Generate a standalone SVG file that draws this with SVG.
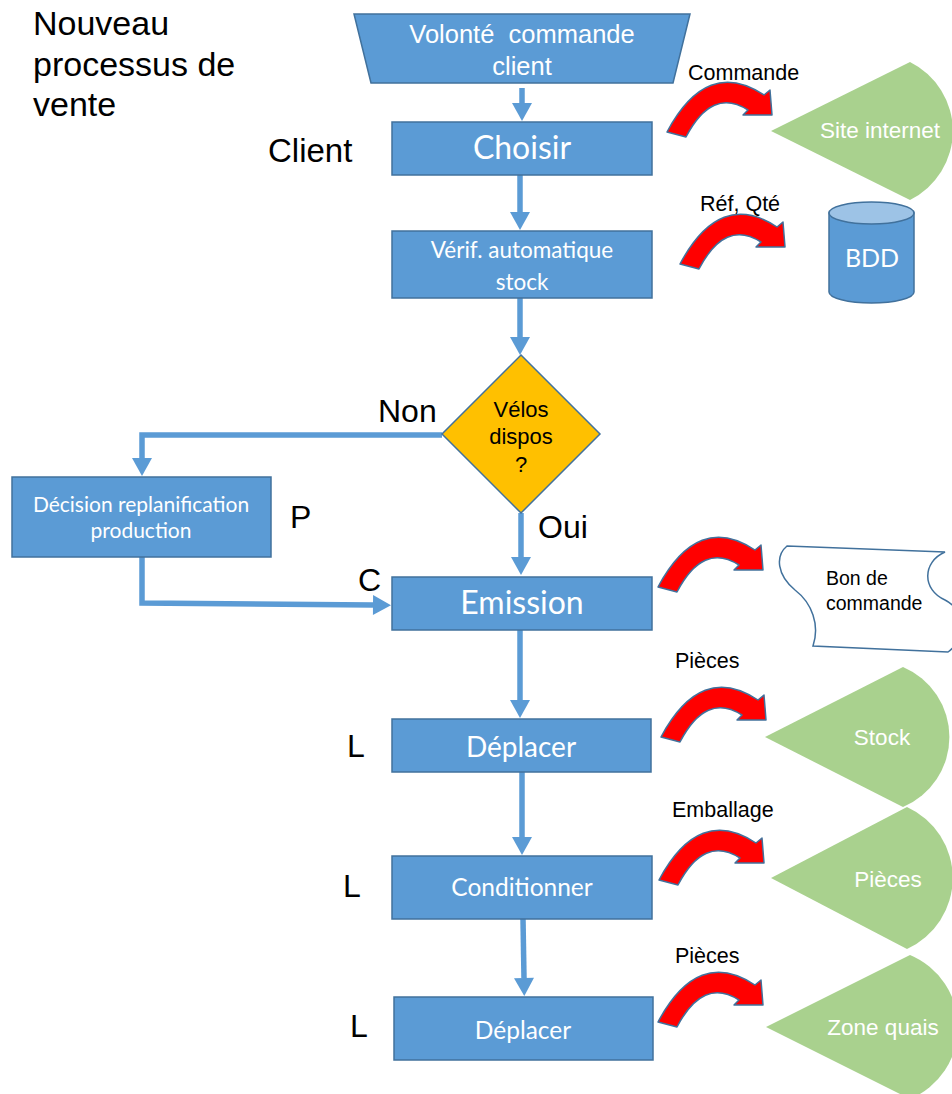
<svg xmlns="http://www.w3.org/2000/svg" width="952" height="1094" viewBox="0 0 952 1094">
<style>
.box{fill:#5B9BD5;stroke:#41719C;stroke-width:1.5}
.bt{font-family:Lato,"Open Sans",sans-serif;fill:#fff;text-anchor:middle}
.lbl{font-family:"Liberation Sans",Arial,sans-serif;fill:#000}
.g{fill:#A9D18E}
.gt{font-family:"Liberation Sans",Arial,sans-serif;fill:#fff;font-size:22.5px;text-anchor:middle}
.con{fill:none;stroke:#5B9BD5;stroke-width:5.5}
.red{fill:#FF0000;stroke:#41719C;stroke-width:1.5;stroke-linejoin:round}
</style>
<defs>
<marker id="ah" markerUnits="userSpaceOnUse" markerWidth="20" markerHeight="22" refX="0" refY="10" orient="auto" overflow="visible"><path d="M0,0 L18,10 L0,20 Z" fill="#5B9BD5"/></marker>
<path id="ca" d="M0,0 Q40,-75 97,-37 L103,-42 L105,-17 L76,-17 L81,-22 Q45,-45 19,5 Z"/>
</defs>
<g id="title"><text class="lbl" font-size="34" x="33" y="35">Nouveau</text><text class="lbl" font-size="34" x="33" y="76">processus de</text><text class="lbl" font-size="34" x="33" y="116">vente</text></g>
<g id="connectors">
<path class="con" d="M522,88 L522,103" marker-end="url(#ah)"/>
<path class="con" d="M520,175 L520,212" marker-end="url(#ah)"/>
<path class="con" d="M520,298 L520,337" marker-end="url(#ah)"/>
<path class="con" d="M442,435 L142,435 L142,458" marker-end="url(#ah)"/>
<path class="con" d="M142,557 L142,603 L373,605" marker-end="url(#ah)"/>
<path class="con" d="M521,513 L521,557" marker-end="url(#ah)"/>
<path class="con" d="M520,630 L520,700" marker-end="url(#ah)"/>
<path class="con" d="M522,772 L522,837" marker-end="url(#ah)"/>
<path class="con" d="M523,919 L524,978" marker-end="url(#ah)"/>
</g>
<g id="volonte"><path class="box" d="M354,14 L690,14 L673,83 L371,83 Z"/><text class="gt" style="font-size:25.5px" x="522" y="43" xml:space="preserve">Volonté  commande</text><text class="gt" style="font-size:25.5px" x="522" y="75">client</text></g>
<g id="choisir"><rect class="box" x="392" y="122" width="260" height="53"/><text class="bt" font-size="32" x="522" y="159">Choisir</text></g>
<g id="verif"><rect class="box" x="392" y="231" width="260" height="67"/><text class="bt" font-size="22.5" x="522" y="258">Vérif. automatique</text><text class="bt" font-size="22.5" x="522" y="290">stock</text></g>
<g id="dispos"><path d="M521,355 L600,434 L521,513 L442,434 Z" fill="#FFC000" stroke="#41719C" stroke-width="1.5"/><text class="lbl" font-size="22" text-anchor="middle" x="521" y="417">Vélos</text><text class="lbl" font-size="22" text-anchor="middle" x="521" y="444">dispos</text><text class="lbl" font-size="22" text-anchor="middle" x="521" y="472">?</text></g>
<g id="decision"><rect class="box" x="12" y="477" width="259" height="80"/><text class="bt" font-size="21" x="141" y="512">Décision replanification</text><text class="bt" font-size="21" x="141" y="538">production</text></g>
<g id="emission"><rect class="box" x="392" y="577" width="260" height="53"/><text class="bt" font-size="32" x="522" y="614">Emission</text></g>
<g id="deplacer1"><rect class="box" x="392" y="719" width="259" height="53"/><text class="bt" font-size="28" x="521" y="757">Déplacer</text></g>
<g id="conditionner"><rect class="box" x="392" y="856" width="260" height="63"/><text class="bt" font-size="24.5" x="522" y="896">Conditionner</text></g>
<g id="deplacer2"><rect class="box" x="394" y="997" width="259" height="63"/><text class="bt" font-size="24.5" x="523" y="1039">Déplacer</text></g>
<g id="side-labels">
<text class="lbl" font-size="33" x="268" y="162">Client</text>
<text class="lbl" font-size="32" x="378" y="422">Non</text>
<text class="lbl" font-size="32" x="538" y="538">Oui</text>
<text class="lbl" font-size="32" x="290" y="528">P</text>
<text class="lbl" font-size="32" x="358" y="591">C</text>
<text class="lbl" font-size="32" x="347" y="757">L</text>
<text class="lbl" font-size="32" x="343" y="897">L</text>
<text class="lbl" font-size="32" x="350" y="1037">L</text>
</g>
<g id="flows">
<use href="#ca" class="red" transform="translate(667,132)"/><text class="lbl" font-size="21.5" x="688" y="80">Commande</text>
<use href="#ca" class="red" transform="translate(680,264)"/><text class="lbl" font-size="21.5" x="700" y="211">Réf, Qté</text>
<use href="#ca" class="red" transform="translate(658,587)"/>
<use href="#ca" class="red" transform="translate(661,737)"/><text class="lbl" font-size="21.5" x="675" y="668">Pièces</text>
<use href="#ca" class="red" transform="translate(659,880)"/><text class="lbl" font-size="21.5" x="672" y="817">Emballage</text>
<use href="#ca" class="red" transform="translate(658,1022)"/><text class="lbl" font-size="21.5" x="675" y="963">Pièces</text>
</g>
<g id="site"><path class="g" d="M771,131 L910,200 A77,77 0 0 0 910,62 Z"/><text class="gt" x="880" y="138">Site internet</text></g>
<g id="bdd"><path d="M829,213 L829,292 A42.5,11 0 0 0 914,292 L914,213 Z" fill="#5B9BD5" stroke="#41719C" stroke-width="1.5"/><ellipse cx="871.5" cy="213" rx="42.5" ry="11" fill="#9DC3E6" stroke="#41719C" stroke-width="1.5"/><text class="bt" font-size="25" x="872" y="267">BDD</text></g>
<g id="bon"><path d="M787,546 L945,552 C922,562 922,590 945,600 C968,612 965,640 948,652 L813,646 C820,625 812,603 795,590 C777,575 775,556 787,546 Z" fill="#fff" stroke="#41719C" stroke-width="1.5"/><text class="lbl" font-size="19.5" x="826" y="585">Bon de</text><text class="lbl" font-size="19.5" x="826" y="610">commande</text></g>
<g id="stock"><path class="g" d="M765,737 L903,807 A76,76 0 0 0 903,667 Z"/><text class="gt" x="882" y="745">Stock</text></g>
<g id="pieces"><path class="g" d="M771,878 L907,949 A78,78 0 0 0 907,807 Z"/><text class="gt" x="888" y="887">Pièces</text></g>
<g id="quais"><path class="g" d="M766,1027 L910,1099 A78,78 0 0 0 910,955 Z"/><text class="gt" x="883" y="1035">Zone quais</text></g>
</svg>
